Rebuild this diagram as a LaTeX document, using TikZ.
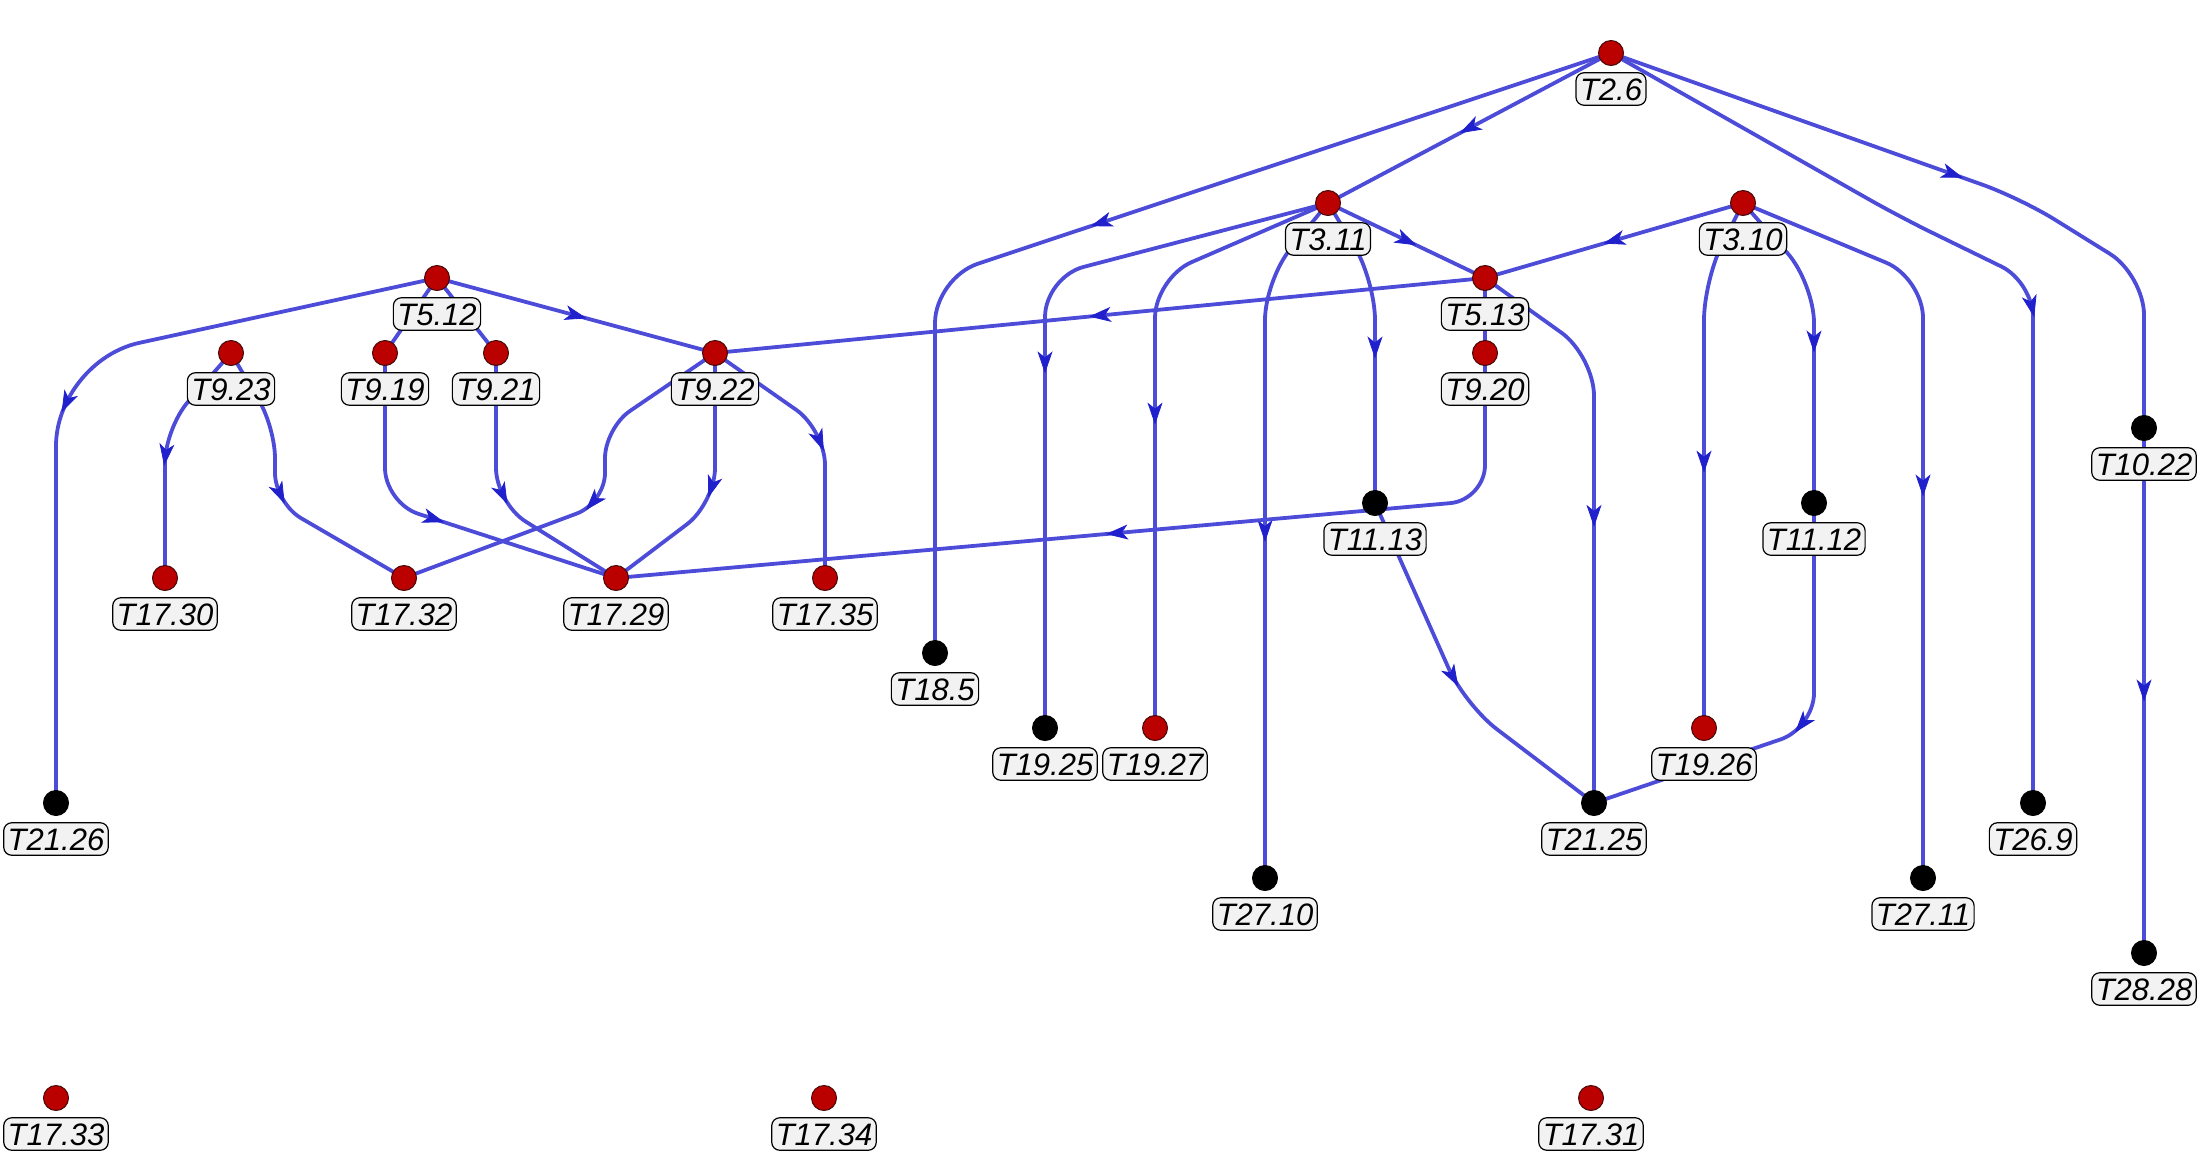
\documentclass[tikz,border=0pt]{standalone}
\usepackage{fontspec}
\setmainfont{Liberation Sans}
\usetikzlibrary{arrows.meta,decorations.markings}
\pgfdeclarelayer{bg}
\pgfsetlayers{bg,main}
\definecolor{edgecol}{RGB}{76,76,217}
\definecolor{arcol}{RGB}{32,32,204}
\definecolor{vred}{RGB}{187,0,0}
\definecolor{vredline}{RGB}{70,10,10}
\definecolor{lblfill}{RGB}{242,242,242}
\newcommand\vtx[5]{%
  \node[#4] (#1) at (#2,#3) {};
  \node[lbl] (#1l) at ([yshift=-36pt]#1.center) {#5};}
\begin{document}
\begin{tikzpicture}[x=1pt,y=-1pt,
  redv/.style={circle,fill=vred,draw=vredline,line width=1pt,minimum size=25pt,inner sep=0pt},
  blkv/.style={circle,fill=black,draw=black,line width=1pt,minimum size=25pt,inner sep=0pt},
  lbl/.style={draw=black,fill=lblfill,line width=1.2pt,rounded corners=8pt,
    inner xsep=4pt,inner ysep=5pt,text height=22.5pt,text depth=0pt,
    font=\fontsize{31}{31}\selectfont\itshape},
  edge/.style={draw=edgecol,line width=3.8pt,rounded corners=40pt,
    postaction={decorate},
    decoration={markings,mark=at position 0.5 with {\arrow[arcol,xshift=11pt]{Stealth[length=22pt,width=15pt,inset=6pt,line width=0.8pt]}}}}]
\useasboundingbox (0,0) rectangle (2200,1154);

% vertices
\vtx{t2-6}{1611}{53}{redv}{T2.6}
\vtx{t3-11}{1328}{203}{redv}{T3.11}
\vtx{t3-10}{1743}{203}{redv}{T3.10}
\vtx{t5-12}{437}{278}{redv}{T5.12}
\vtx{t5-13}{1485}{278}{redv}{T5.13}
\vtx{t9-23}{231}{353}{redv}{T9.23}
\vtx{t9-19}{385}{353}{redv}{T9.19}
\vtx{t9-21}{496}{353}{redv}{T9.21}
\vtx{t9-22}{715}{353}{redv}{T9.22}
\vtx{t9-20}{1485}{353}{redv}{T9.20}
\vtx{t10-22}{2144}{428}{blkv}{T10.22}
\vtx{t11-13}{1375}{503}{blkv}{T11.13}
\vtx{t11-12}{1814}{503}{blkv}{T11.12}
\vtx{t17-30}{165}{578}{redv}{T17.30}
\vtx{t17-32}{404}{578}{redv}{T17.32}
\vtx{t17-29}{616}{578}{redv}{T17.29}
\vtx{t17-35}{825}{578}{redv}{T17.35}
\vtx{t18-5}{935}{653}{blkv}{T18.5}
\vtx{t19-25}{1045}{728}{blkv}{T19.25}
\vtx{t19-27}{1155}{728}{redv}{T19.27}
\vtx{t19-26}{1704}{728}{redv}{T19.26}
\vtx{t21-26}{56}{803}{blkv}{T21.26}
\vtx{t21-25}{1594}{803}{blkv}{T21.25}
\vtx{t26-9}{2033}{803}{blkv}{T26.9}
\vtx{t27-10}{1265}{878}{blkv}{T27.10}
\vtx{t27-11}{1923}{878}{blkv}{T27.11}
\vtx{t28-28}{2144}{953}{blkv}{T28.28}
\vtx{t17-33}{56}{1098}{redv}{T17.33}
\vtx{t17-34}{824}{1098}{redv}{T17.34}
\vtx{t17-31}{1591}{1098}{redv}{T17.31}

\begin{pgfonlayer}{bg}
% from T2.6
\draw[edge] (t2-6.center) -- (t3-11.center);
\draw[edge,rounded corners=45pt] (t2-6.center) -- (935,278) -- (t18-5.center);
\draw[edge,rounded corners=35pt] (t2-6.center) -- (1900,217) -- (2033,282) -- (t26-9.center);
\draw[edge] (t2-6.center) -- (2020,198) -- (2144,275) -- (t10-22.center);
% from T3.11
\draw[edge] (t3-11.center) -- (t5-13.center);
\draw[edge] (t3-11.center) -- (1045,277) -- (t19-25.center);
\draw[edge] (t3-11.center) -- (1155,278) -- (t19-27.center);
\draw[edge] (t3-11.center) -- (1265,280) -- (t27-10.center);
\draw[edge] (t3-11.center) -- (1375,280) -- (t11-13.center);
% from T3.10
\draw[edge] (t3-10.center) -- (t5-13.center);
\draw[edge] (t3-10.center) -- (1704,280) -- (t19-26.center);
\draw[edge] (t3-10.center) -- (1814,283) -- (t11-12.center);
\draw[edge] (t3-10.center) -- (1923,278) -- (t27-11.center);
% from T5.13
\draw[edge] (t5-13.center) -- (t9-20.center);
\draw[edge] (t5-13.center) -- (1594,356) -- (t21-25.center);
\draw[edge] (t5-13.center) -- (t9-22.center);
% from T5.12
\draw[edge] (t5-12.center) -- (t9-22.center);
\draw[edge] (t5-12.center) -- (t9-19.center);
\draw[edge] (t5-12.center) -- (t9-21.center);
\draw[edge,rounded corners=85pt] (t5-12.center) -- (56,361) -- (t21-26.center);
% layer 9
\draw[edge,rounded corners=35pt] (t9-23.center) -- (165,428) -- (t17-30.center);
\draw[edge,rounded corners=30pt] (t9-23.center) -- (275,428) -- (275,503) -- (t17-32.center);
\draw[edge,rounded corners=35pt] (t9-19.center) -- (385,503) -- (t17-29.center);
\draw[edge,rounded corners=35pt] (t9-21.center) -- (496,503) -- (t17-29.center);
\draw[edge,rounded corners=30pt] (t9-22.center) -- (605,428) -- (605,503) -- (t17-32.center);
\draw[edge,rounded corners=35pt] (t9-22.center) -- (715,503) -- (t17-29.center);
\draw[edge,rounded corners=35pt] (t9-22.center) -- (825,430) -- (t17-35.center);
\draw[edge,rounded corners=35pt] (t9-20.center) -- (1485,500) -- (t17-29.center);
% lower
\draw[edge] (t11-13.center) -- (1465,705) -- (t21-25.center);
\draw[edge,rounded corners=35pt] (t11-12.center) -- (1814,728) -- (t21-25.center);
\draw[edge] (t10-22.center) -- (t28-28.center);
\end{pgfonlayer}
\end{tikzpicture}
\end{document}
